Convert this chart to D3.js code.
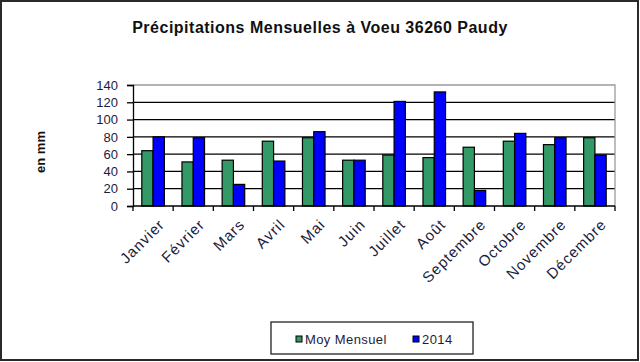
<!DOCTYPE html>
<html lang="fr">
<head>
    <meta charset="UTF-8">
    <title>Précipitations mensuelles</title>
    <style>
        body { margin: 0; background: #fff; }
        text { font-family: "Liberation Sans", Arial, sans-serif; }
        .tick_label { font-size: 13px; fill: #1c1c3c; }
        .month_label { font-size: 15px; fill: #1c1c3c; letter-spacing: 1px; }
    </style>
    <script src="https://cdn.jsdelivr.net/npm/d3@7"></script>
</head>
<body>
<svg width="640" height="362"></svg>

<script>
    // months on the x axis
    const months = ["Janvier", "Février", "Mars", "Avril", "Mai", "Juin",
        "Juillet", "Août", "Septembre", "Octobre", "Novembre", "Décembre"];
    const seriesNames = ["Moy Mensuel", "2014"];
    const moyMensuel = [64, 51, 53, 75, 79, 53, 59, 56, 68, 75, 71, 79];
    const values2014 = [80, 79, 25, 52, 86, 53, 121, 132, 18, 84, 79, 59];
    const yTicks = [0, 20, 40, 60, 80, 100, 120, 140];
    const seriesColors = ["#339966", "#0000ff"];

    let svg = d3.select("svg");

    // outer frame
    svg.append("rect")
        .attr("x", 1).attr("y", 1)
        .attr("width", 637).attr("height", 359)
        .attr("fill", "#fff").attr("stroke", "#2a2a2a").attr("stroke-width", 2);

    const plotLeft = 133, plotRight = 615, plotTop = 85, plotBottom = 206;

    let x = d3.scaleBand().domain(months).range([plotLeft, plotRight]);
    let xs = d3.scaleBand().domain(seriesNames).range([0, x.bandwidth()]).paddingOuter(0.78);
    let y = d3.scaleLinear().domain([0, 140]).range([plotBottom, plotTop]);

    // grid lines
    svg.append("g").selectAll("line")
        .data(yTicks.filter(function (d) { return d > 0 && d < 140; }))
        .enter().append("line")
        .attr("x1", plotLeft).attr("x2", plotRight)
        .attr("y1", function (d) { return y(d); })
        .attr("y2", function (d) { return y(d); })
        .attr("stroke", "#000").attr("stroke-width", 1.3);

    // plot area border (top/right grey)
    svg.append("path")
        .attr("d", `M${plotLeft},${plotTop}H${plotRight}V${plotBottom}`)
        .attr("fill", "none").attr("stroke", "#9a9a9a").attr("stroke-width", 1.3);

    // bars
    let data = months.map(function (m, i) {
        return {month: m, vals: [
            {name: seriesNames[0], v: moyMensuel[i], c: seriesColors[0]},
            {name: seriesNames[1], v: values2014[i], c: seriesColors[1]}]};
    });

    let groups = svg.append("g").selectAll("g")
        .data(data).enter().append("g")
        .attr("transform", function (d) { return `translate(${x(d.month)},0)`; });
    groups.selectAll("rect")
        .data(function (d) { return d.vals; })
        .enter().append("rect")
        .attr("x", function (d) { return xs(d.name); })
        .attr("width", xs.bandwidth())
        .attr("y", function (d) { return y(d.v); })
        .attr("height", function (d) { return y(0) - y(d.v); })
        .attr("fill", function (d) { return d.c; })
        .attr("stroke", "#000").attr("stroke-width", 1.2);

    // y axis
    let yAxis = svg.append("g")
        .attr("transform", `translate(${plotLeft},0)`)
        .call(d3.axisLeft(y).tickValues(yTicks).tickSize(6).tickPadding(9));
    yAxis.select(".domain").attr("stroke", "#000").attr("stroke-width", 1.3);
    yAxis.selectAll(".tick line").attr("stroke", "#000").attr("stroke-width", 1.3);
    yAxis.selectAll("text").attr("class", "tick_label").attr("font-family", null).attr("font-size", null);

    // x axis: ticks on category boundaries
    svg.append("line")
        .attr("x1", plotLeft).attr("x2", plotRight).attr("y1", plotBottom).attr("y2", plotBottom)
        .attr("stroke", "#000").attr("stroke-width", 1.5);
    svg.append("g").selectAll("line")
        .data(months.concat(["end"]))
        .enter().append("line")
        .attr("x1", function (d) { return d === "end" ? plotRight : x(d); })
        .attr("x2", function (d) { return d === "end" ? plotRight : x(d); })
        .attr("y1", plotBottom).attr("y2", plotBottom + 5)
        .attr("stroke", "#000").attr("stroke-width", 1.3);

    svg.append("g").selectAll("text")
        .data(months).enter().append("text")
        .attr("class", "month_label")
        .attr("text-anchor", "end")
        .attr("transform", function (d) {
            return `translate(${x(d) + x.bandwidth() / 2 + 5},${plotBottom + 12}) rotate(-45)`;
        })
        .attr("dy", "0.7em")
        .text(function (d) { return d; });

    // title
    svg.append("text")
        .attr("x", 320).attr("y", 33)
        .attr("text-anchor", "middle")
        .attr("font-size", 16).attr("font-weight", "bold")
        .attr("letter-spacing", 0.5)
        .attr("fill", "#111")
        .text("Précipitations Mensuelles à Voeu 36260 Paudy");

    // y title
    svg.append("text")
        .attr("transform", "translate(45,152) rotate(-90)")
        .attr("text-anchor", "middle")
        .attr("font-size", 13).attr("font-weight", "bold")
        .attr("fill", "#111")
        .text("en mm");

    // legend
    let legend = svg.append("g");
    legend.append("rect")
        .attr("x", 271).attr("y", 322).attr("width", 202).attr("height", 32)
        .attr("fill", "#fff").attr("stroke", "#222").attr("stroke-width", 1.3);
    let items = legend.selectAll("g.item")
        .data(seriesNames).enter().append("g")
        .attr("class", "item")
        .attr("transform", function (d, i) { return `translate(${[296, 413][i]},336)`; });
    items.append("rect")
        .attr("width", 6).attr("height", 6)
        .attr("fill", function (d, i) { return seriesColors[i]; })
        .attr("stroke", "#000").attr("stroke-width", 1);
    items.append("text")
        .attr("class", "tick_label")
        .attr("x", 9).attr("y", 8)
        .attr("letter-spacing", 0.4)
        .text(function (d) { return d; });
</script>
</body>
</html>
